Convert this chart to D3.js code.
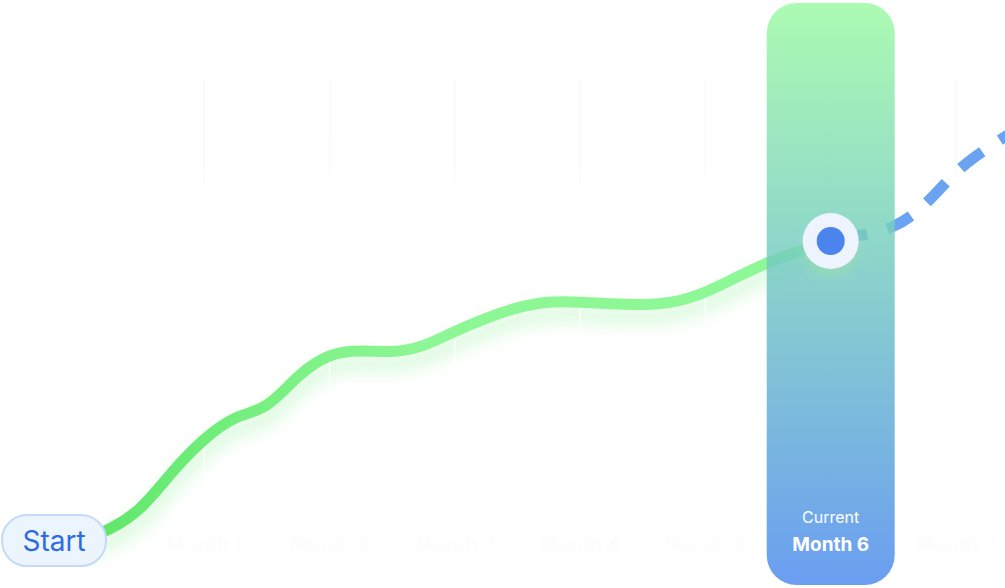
<!DOCTYPE html>
<html lang="en">
<head>
  <meta charset="UTF-8">
  <title>Progress to Month 6</title>
  <style>
    html, body {
      margin: 0;
      padding: 0;
      background: #fff;
    }
    svg {
      display: block;
      font-family: Inter, 'Noto Sans', sans-serif;
    }
  </style>
  <script src="https://d3js.org/d3.v7.min.js"></script>
</head>
<body>
  <svg></svg>
  <script>
    const width = 1005, height = 588;

    // weekly progress, week 0 = start, 4 weeks per month
    const actualWeeks = d3.range(0, 25);
    const actualValues = [0, 2.2, 6.2, 14.2, 20.6, 25.2, 26.2, 33.4, 37.6, 38.2, 37.6, 38.8, 42,
      44.6, 46.8, 48, 47.8, 47.4, 47.2, 47.6, 49.6, 52.8, 55.8, 58, 60];
    const projWeeks = [24, 25, 26, 27, 28, 29, 30];
    const projValues = [60, 61.2, 62.4, 66.8, 74.2, 78.6, 82.6];
    const monthLabels = ["Start", "Month 1", "Month 2", "Month 3", "Month 4", "Month 5", "Month 6", "Month 7"];
    const currentMonth = 6;

    const svg = d3.select("svg")
      .attr("width", width)
      .attr("height", height);

    const x = d3.scaleLinear().domain([0, 28]).range([79, 956]);
    const y = d3.scaleLinear().domain([0, 100]).range([541, 41]);
    const monthX = m => x(m * 4);

    const defs = svg.append("defs");

    const lineGrad = defs.append("linearGradient")
      .attr("id", "lineGrad")
      .attr("gradientUnits", "userSpaceOnUse")
      .attr("x1", x(0)).attr("x2", x(24)).attr("y1", 0).attr("y2", 0);
    lineGrad.append("stop").attr("offset", 0).attr("stop-color", "#5ee669");
    lineGrad.append("stop").attr("offset", 0.45).attr("stop-color", "#8df795");
    lineGrad.append("stop").attr("offset", 1).attr("stop-color", "#8ef796");

    const barGrad = defs.append("linearGradient")
      .attr("id", "barGrad")
      .attr("x1", 0).attr("x2", 0).attr("y1", 0).attr("y2", 1);
    barGrad.append("stop").attr("offset", 0).attr("stop-color", "#9afaa2");
    barGrad.append("stop").attr("offset", 0.5).attr("stop-color", "#6ec4c4");
    barGrad.append("stop").attr("offset", 1).attr("stop-color", "#4a88ee");

    const gridGrad = defs.append("linearGradient")
      .attr("id", "gridGrad")
      .attr("gradientUnits", "userSpaceOnUse")
      .attr("x1", 0).attr("x2", 0).attr("y1", 80).attr("y2", 530);
    gridGrad.append("stop").attr("offset", 0).attr("stop-color", "#f8f8f8");
    gridGrad.append("stop").attr("offset", 0.2).attr("stop-color", "#f9f9f9");
    gridGrad.append("stop").attr("offset", 0.23).attr("stop-color", "#fefefe");
    gridGrad.append("stop").attr("offset", 1).attr("stop-color", "#fefefe");

    defs.append("filter")
      .attr("id", "glow")
      .attr("x", "-10%").attr("y", "-30%").attr("width", "120%").attr("height", "160%")
      .append("feGaussianBlur").attr("stdDeviation", 8);

    defs.append("filter")
      .attr("id", "dotShadow")
      .attr("x", "-50%").attr("y", "-50%").attr("width", "200%").attr("height", "200%")
      .append("feDropShadow")
      .attr("dx", 0).attr("dy", 8).attr("stdDeviation", 5)
      .attr("flood-color", "#9fe0a8").attr("flood-opacity", 0.5);

    const line = d3.line()
      .x(d => x(d[0]))
      .y(d => y(d[1]))
      .curve(d3.curveBasis);

    const actual = d3.zip(actualWeeks, actualValues);
    const projected = d3.zip(projWeeks, projValues);

    // soft green glow under the line
    svg.append("path")
      .datum(actual)
      .attr("d", line)
      .attr("transform", "translate(0,12)")
      .attr("fill", "none")
      .attr("stroke", "#7eee86")
      .attr("stroke-width", 18)
      .attr("opacity", 0.25)
      .attr("filter", "url(#glow)");

    // faint month gridlines
    svg.append("g")
      .selectAll("line")
      .data(d3.range(1, 8))
      .join("line")
      .attr("x1", d => monthX(d)).attr("x2", d => monthX(d))
      .attr("y1", 80).attr("y2", 530)
      .attr("stroke", "url(#gridGrad)")
      .attr("stroke-width", 1.5);

    // faint month labels
    svg.append("g")
      .selectAll("text")
      .data(d3.range(1, 8).filter(m => m !== currentMonth))
      .join("text")
      .attr("x", d => monthX(d))
      .attr("y", 551)
      .attr("text-anchor", "middle")
      .attr("font-size", 20)
      .attr("font-weight", 700)
      .attr("fill", "#fdfdfd")
      .text(d => monthLabels[d]);

    svg.append("path")
      .datum(actual)
      .attr("d", line)
      .attr("fill", "none")
      .attr("stroke", "url(#lineGrad)")
      .attr("stroke-width", 11)
      .attr("stroke-linecap", "round");

    svg.append("path")
      .datum(projected)
      .attr("d", line)
      .attr("fill", "none")
      .attr("stroke", "#69a3f1")
      .attr("stroke-width", 11)
      .attr("stroke-dasharray", "27 21")
      .attr("stroke-dashoffset", 38);

    // current month highlight
    const cx = monthX(currentMonth);
    svg.append("rect")
      .attr("x", cx - 64)
      .attr("y", 3)
      .attr("width", 128)
      .attr("height", 582)
      .attr("rx", 30)
      .attr("fill", "url(#barGrad)")
      .attr("opacity", 0.82);

    svg.append("text")
      .attr("x", cx).attr("y", 523)
      .attr("text-anchor", "middle")
      .attr("font-size", 16)
      .attr("fill", "#fff")
      .text("Current");

    svg.append("text")
      .attr("x", cx).attr("y", 551)
      .attr("text-anchor", "middle")
      .attr("font-size", 19)
      .attr("font-weight", 700)
      .attr("fill", "#fff")
      .text(monthLabels[currentMonth]);

    const last = actual[actual.length - 1];
    svg.append("circle")
      .attr("cx", x(last[0])).attr("cy", y(last[1]))
      .attr("r", 28)
      .attr("fill", "#eef4fd")
      .attr("filter", "url(#dotShadow)");
    svg.append("circle")
      .attr("cx", x(last[0])).attr("cy", y(last[1]))
      .attr("r", 14)
      .attr("fill", "#4a84ec");

    // start pill
    const start = svg.append("g").attr("transform", "translate(54," + y(0) + ")");
    start.append("rect")
      .attr("x", -52).attr("y", -26)
      .attr("width", 104).attr("height", 51)
      .attr("rx", 25)
      .attr("fill", "#ecf4fe")
      .attr("stroke", "#c3daf8")
      .attr("stroke-width", 2);
    start.append("text")
      .attr("text-anchor", "middle")
      .attr("dy", "0.35em")
      .attr("font-size", 28)
      .attr("fill", "#2f6be0")
      .text(monthLabels[0]);
  </script>
</body>
</html>
